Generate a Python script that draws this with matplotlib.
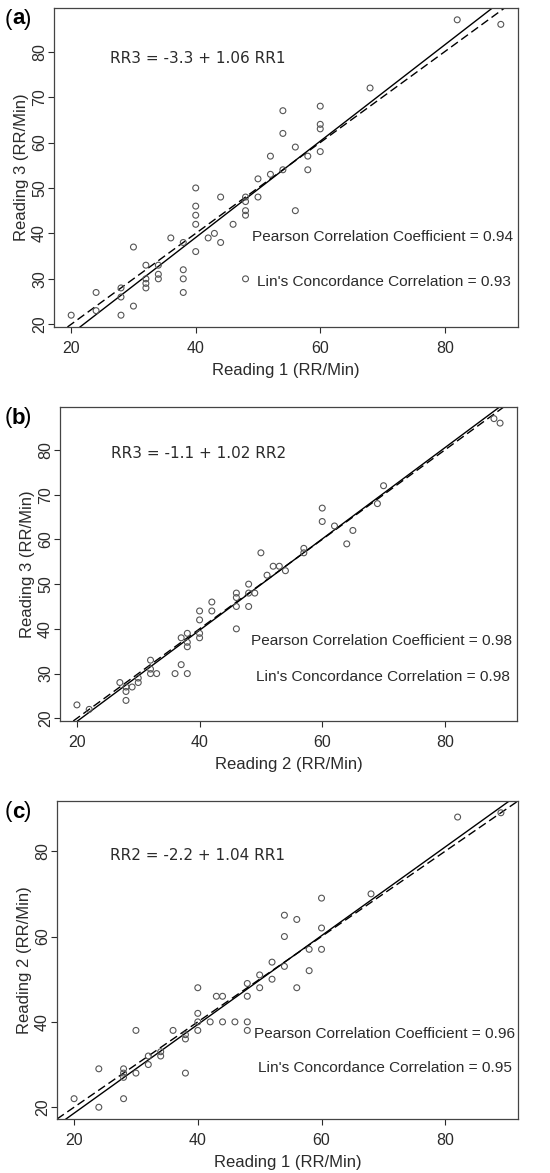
import numpy as np
import matplotlib
matplotlib.use("Agg")
import matplotlib.pyplot as plt

plt.rcParams["font.family"] = ["Liberation Sans", "DejaVu Sans"]

# (a) Reading 1 vs Reading 3
r1_a = [20, 24, 24, 28, 28, 28, 30, 30, 32, 32, 32, 32, 34, 34, 34, 36, 38, 38, 38, 38,
        40, 40, 40, 40, 40, 42, 43, 44, 44, 46, 48, 48, 48, 48, 48, 50, 50, 52, 52, 54,
        54, 54, 56, 56, 58, 58, 60, 60, 60, 60, 68, 82, 89]
r3_a = [22, 23, 27, 28, 26, 22, 37, 24, 33, 30, 29, 28, 33, 31, 30, 39, 38, 32, 30, 27,
        50, 46, 44, 42, 36, 39, 40, 48, 38, 42, 48, 47, 45, 44, 30, 52, 48, 57, 53, 67,
        62, 54, 59, 45, 57, 54, 68, 64, 63, 58, 72, 87, 86]

# (b) Reading 2 vs Reading 3
r2_b = [20, 22, 27, 28, 28, 28, 29, 30, 30, 32, 32, 32, 33, 36, 37, 38, 37, 38, 38, 38,
        40, 40, 40, 40, 42, 42, 46, 46, 46, 46, 48, 48, 48, 49, 50, 51, 52, 53, 54, 57,
        57, 60, 60, 62, 64, 65, 69, 70, 88, 89]
r3_b = [23, 22, 28, 27, 26, 24, 27, 29, 28, 33, 31, 30, 30, 30, 32, 30, 38, 39, 37, 36,
        44, 42, 39, 38, 46, 44, 48, 47, 45, 40, 50, 48, 45, 48, 57, 52, 54, 54, 53, 58,
        57, 67, 64, 63, 59, 62, 68, 72, 87, 86]

# (c) Reading 1 vs Reading 2
r1_c = [20, 24, 24, 28, 28, 28, 28, 30, 30, 32, 32, 34, 34, 36, 38, 38, 38, 40, 40, 40,
        40, 42, 43, 44, 44, 46, 48, 48, 48, 48, 50, 50, 52, 52, 54, 54, 54, 56, 56, 58,
        58, 60, 60, 60, 68, 82, 89]
r2_c = [22, 29, 20, 29, 28, 27, 22, 38, 28, 32, 30, 33, 32, 38, 37, 36, 28, 48, 42, 40,
        38, 40, 46, 46, 40, 40, 49, 46, 40, 38, 51, 48, 54, 50, 65, 60, 53, 64, 48, 57,
        52, 69, 62, 57, 70, 88, 89]

# fitted lines and agreement stats as printed on each panel
intercepts = [-3.3, -1.1, -2.2]
slopes = [1.06, 1.02, 1.04]
pearson = [0.94, 0.98, 0.96]
lin_ccc = [0.93, 0.98, 0.95]
equations = ["RR3 = -3.3 + 1.06 RR1", "RR3 = -1.1 + 1.02 RR2", "RR2 = -2.2 + 1.04 RR1"]
xlabels = ["Reading 1 (RR/Min)", "Reading 2 (RR/Min)", "Reading 1 (RR/Min)"]
ylabels = ["Reading 3 (RR/Min)", "Reading 3 (RR/Min)", "Reading 2 (RR/Min)"]
panel_tags = ["a", "b", "c"]

W, H = 550, 1173
fig = plt.figure(figsize=(W / 100, H / 100), dpi=100)

# axes boxes in pixels: left, top, right, bottom
boxes = [(54, 8, 518, 327), (60, 407, 517, 721), (57, 801, 518, 1119)]
eq_pos = [(26.2, 78.5), (25.5, 79.1), (25.8, 79.1)]
pear_pos = [(91.0, 39.3), (91.0, 37.3), (91.2, 37.1)]
lin_pos = [(90.6, 29.2), (90.6, 29.3), (90.8, 29.1)]
yticks = [np.arange(20, 90, 10), np.arange(20, 90, 10), np.arange(20, 90, 20)]

data = [(r1_a, r3_a), (r2_b, r3_b), (r1_c, r2_c)]
dark = "#2b2b2b"

for i, (x, y) in enumerate(data):
    l, t, r, b = boxes[i]
    ax = fig.add_axes([l / W, 1 - b / H, (r - l) / W, (b - t) / H])
    x = np.asarray(x, dtype=float)
    y = np.asarray(y, dtype=float)

    ax.scatter(x, y, s=18, facecolors="none", edgecolors="#555555", linewidths=0.8, zorder=3)
    ax.axline((0, intercepts[i]), slope=slopes[i], color="black", lw=1.0)
    ax.axline((0, 0), slope=1, color="black", lw=1.0, ls=(0, (6, 3)))

    # R-style 4% padding
    xr = x.max() - x.min()
    yr = y.max() - y.min()
    ax.set_xlim(x.min() - 0.04 * xr, x.max() + 0.04 * xr)
    ax.set_ylim(y.min() - 0.04 * yr, y.max() + 0.04 * yr)

    ax.set_xticks([20, 40, 60, 80])
    ax.set_yticks(yticks[i])
    ax.tick_params(direction="out", length=4, width=0.8, colors=dark, labelsize=11.5)
    ax.tick_params(axis="x", pad=6)
    ax.tick_params(axis="y", labelrotation=90, pad=1)
    for lbl in ax.get_yticklabels():
        lbl.set_va("center")
    for sp in ax.spines.values():
        sp.set_color("#444444")
        sp.set_linewidth(0.9)

    ax.set_xlabel(xlabels[i], fontsize=12, color=dark, labelpad=5)
    ax.set_ylabel(ylabels[i], fontsize=12, color=dark, labelpad=2)

    ax.text(eq_pos[i][0], eq_pos[i][1], equations[i], family="DejaVu Sans",
            fontsize=11, color=dark, ha="left", va="center")
    ax.text(pear_pos[i][0], pear_pos[i][1], f"Pearson Correlation Coefficient = {pearson[i]:.2f}",
            fontsize=11.1, color=dark, ha="right", va="center")
    ax.text(lin_pos[i][0], lin_pos[i][1], f"Lin's Concordance Correlation = {lin_ccc[i]:.2f}",
            fontsize=11.1, color=dark, ha="right", va="center")

    fig.text(5 / W, 1 - (t + 11) / H, "(", fontsize=16, color="black", ha="left", va="center")
    fig.text(12 / W, 1 - (t + 11) / H, panel_tags[i], fontsize=16, fontweight="bold",
             color="black", ha="left", va="center")
    fig.text(24 / W, 1 - (t + 11) / H, ")", fontsize=16, color="black", ha="left", va="center")

fig.savefig("out.png", dpi=100)
